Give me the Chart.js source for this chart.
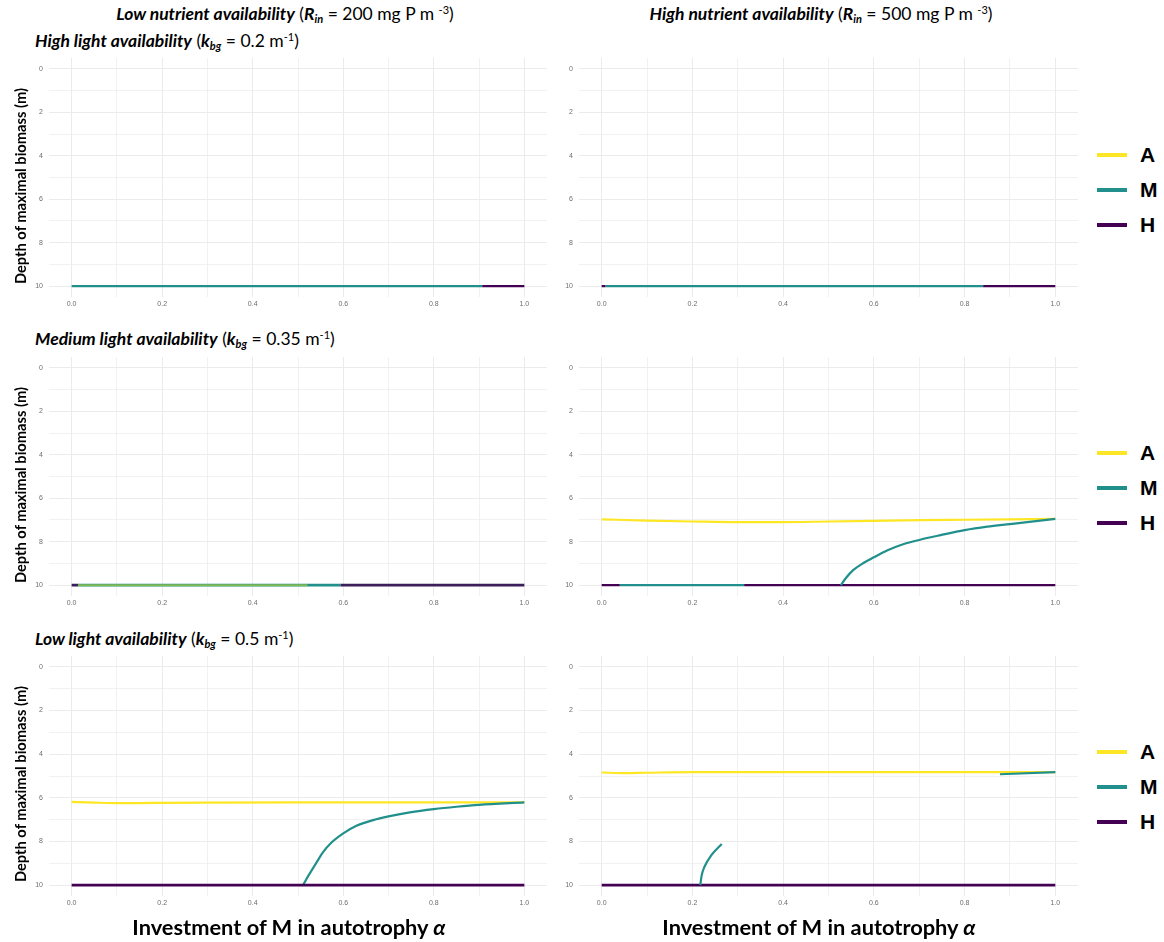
<!DOCTYPE html>
<html>
<head>
<meta charset="utf-8">
<script src="https://cdn.jsdelivr.net/npm/chart.js@4"></script>
<style>
  body { margin: 0; background: #fff; }
  #wrap { position: relative; width: 1164px; height: 942px; overflow: hidden; }
  canvas { position: absolute; }
  .txt { position: absolute; white-space: nowrap; color: #000; }
  .head { font-family: Lato, "Open Sans", sans-serif; font-size: 17.5px; }
  .head sub { font-size: 11px; line-height: 1; vertical-align: -0.3em; }
  .head sup { font-size: 11px; line-height: 1; vertical-align: 0.55em; }
  .ytitle { font-family: Lato, sans-serif; font-weight: bold; font-size: 14.7px;
            transform: translate(-50%, -50%) rotate(-90deg); }
  .xtitle { font-family: Lato, sans-serif; font-weight: bold; font-size: 21.8px;
            transform: translateX(-50%); }
  .leg { position: absolute; font-family: "Liberation Sans", Arial, sans-serif;
         font-weight: bold; font-size: 21px; }
  .leg .sw { position: absolute; left: 0; width: 30px; height: 4px; }
  .leg .lab { position: absolute; left: 43px; transform: translateY(-50%); }
</style>
</head>
<body>
<div id="wrap"></div>
<script>
// series colours (viridis)
var colA = '#FDE725', colM = '#21908C', colH = '#440154';

// x ticks (alpha) and y ticks (depth)
var alphaTicks = [0, 0.1, 0.2, 0.3, 0.4, 0.5, 0.6, 0.7, 0.8, 0.9, 1];
var depthTicks = [0, 1, 2, 3, 4, 5, 6, 7, 8, 9, 10];

// high light, low nutrients
var p1_M_alpha = [0, 0.907];
var p1_M_depth = [10, 10];
var p1_H_alpha = [0.907, 1];
var p1_H_depth = [10, 10];

// high light, high nutrients
var p2_M_alpha = [0.008, 0.841];
var p2_M_depth = [10, 10];
var p2_H_alpha = [0, 0.008, 0.5, 0.841, 1];
var p2_H_depth = [10, 10, null, 10, 10];

// medium light, low nutrients
var p3_A_alpha = [0.014, 0.521];
var p3_A_depth = [10, 10];
var p3_M_alpha = [0.014, 0.594];
var p3_M_depth = [10, 10];
var p3_H_alpha = [0, 0.014, 0.3, 0.594, 1];
var p3_H_depth = [10, 10, null, 10, 10];

// medium light, high nutrients
var p4_A_alpha = [0, 0.1, 0.2, 0.3, 0.4, 0.5, 0.6, 0.7, 0.8, 0.9, 1];
var p4_A_depth = [6.97, 7.03, 7.07, 7.1, 7.1, 7.07, 7.04, 7.01, 6.99, 6.97, 6.95];
var p4_M_alpha = [0.04, 0.314, 0.42, 0.527, 0.538, 0.555, 0.577, 0.6, 0.629, 0.666, 0.7, 0.747, 0.8, 0.85, 0.9, 1];
var p4_M_depth = [10, 10, null, 10, 9.68, 9.3, 8.98, 8.72, 8.41, 8.11, 7.92, 7.7, 7.47, 7.31, 7.19, 6.95];
var p4_H_alpha = [0, 0.04, 0.2, 0.314, 1];
var p4_H_depth = [10, 10, null, 10, 10];

// low light, low nutrients
var p5_A_alpha = [0, 0.05, 0.1, 0.15, 0.2, 0.3, 0.5, 0.7, 0.9, 1];
var p5_A_depth = [6.19, 6.22, 6.24, 6.24, 6.23, 6.22, 6.21, 6.21, 6.21, 6.21];
var p5_M_alpha = [0.511, 0.525, 0.541, 0.555, 0.574, 0.6, 0.629, 0.666, 0.7, 0.747, 0.8, 0.85, 0.9, 1];
var p5_M_depth = [10, 9.5, 8.96, 8.5, 8.05, 7.63, 7.28, 7.02, 6.85, 6.67, 6.52, 6.41, 6.32, 6.21];
var p5_H_alpha = [0, 1];
var p5_H_depth = [10, 10];

// low light, high nutrients
var p6_A_alpha = [0, 0.05, 0.1, 0.2, 0.5, 0.8, 1];
var p6_A_depth = [4.84, 4.87, 4.85, 4.82, 4.82, 4.82, 4.82];
var p6_M_alpha = [0.2175, 0.22, 0.2266, 0.2418, 0.2646, 0.5, 0.878, 1];
var p6_M_depth = [10, 9.6, 9.16, 8.63, 8.12, null, 4.92, 4.82];
var p6_H_alpha = [0, 1];
var p6_H_depth = [10, 10];

var wrap = document.getElementById('wrap');

function pts(xs, ys) {
  return xs.map(function (x, i) { return { x: x, y: ys[i] }; });
}

function line(xs, ys, color, order, width) {
  return {
    data: pts(xs, ys),
    borderColor: color,
    borderWidth: width || 2.2,
    pointRadius: 0,
    fill: false,
    spanGaps: false,
    cubicInterpolationMode: 'monotone',
    order: order
  };
}

function noPad(s) {
  s.paddingTop = 0; s.paddingBottom = 0; s.paddingLeft = 0; s.paddingRight = 0;
}

function panel(left, top, w, h, datasets) {
  var cv = document.createElement('canvas');
  cv.width = w; cv.height = h;
  cv.style.left = left + 'px';
  cv.style.top = top + 'px';
  wrap.appendChild(cv);
  var tickFont = { family: '"Liberation Sans", Arial, sans-serif', size: 7 };
  new Chart(cv, {
    type: 'line',
    data: { datasets: datasets },
    options: {
      responsive: false,
      animation: false,
      layout: { padding: 0 },
      plugins: { legend: { display: false }, tooltip: { enabled: false } },
      scales: {
        x: {
          type: 'linear', min: -0.05, max: 1.05,
          afterBuildTicks: function (s) { s.ticks = alphaTicks.map(function (v) { return { value: v }; }); },
          afterFit: function (s) { s.height = 18; noPad(s); },
          ticks: {
            autoSkip: false, maxRotation: 0, padding: 3, color: '#6e6e6e', font: tickFont,
            callback: function (v, i) { return i % 2 === 0 ? v.toFixed(1) : ''; }
          },
          grid: {
            color: '#ebebeb', drawTicks: false,
            lineWidth: function (c) { return c.index % 2 === 0 ? 1 : 0.7; }
          },
          border: { display: false }
        },
        y: {
          type: 'linear', min: -0.5, max: 10.5, reverse: true,
          afterBuildTicks: function (s) { s.ticks = depthTicks.map(function (v) { return { value: v }; }); },
          afterFit: function (s) { s.width = 22; noPad(s); },
          ticks: {
            autoSkip: false, padding: 6, color: '#6e6e6e', font: tickFont,
            callback: function (v, i) { return i % 2 === 0 ? String(v) : ''; }
          },
          grid: {
            color: '#ebebeb', drawTicks: false,
            lineWidth: function (c) { return c.index % 2 === 0 ? 1 : 0.7; }
          },
          border: { display: false }
        }
      }
    }
  });
}

var colL = 27, colR = 557, wL = 520, wR = 521;

panel(colL, 58, wL, 257, [
  line(p1_M_alpha, p1_M_depth, colM, 2),
  line(p1_H_alpha, p1_H_depth, colH, 1)
]);
panel(colR, 58, wR, 257, [
  line(p2_M_alpha, p2_M_depth, colM, 2),
  line(p2_H_alpha, p2_H_depth, colH, 1)
]);
panel(colL, 357, wL, 257, [
  line(p3_M_alpha, p3_M_depth, colM, 3, 2.6),
  line(p3_A_alpha, p3_A_depth, 'rgba(160,200,70,0.75)', 1, 2),
  line(p3_H_alpha, p3_H_depth, '#3a1f5a', 2, 2.6)
]);
panel(colR, 357, wR, 257, [
  line(p4_A_alpha, p4_A_depth, colA, 3),
  line(p4_H_alpha, p4_H_depth, colH, 2),
  line(p4_M_alpha, p4_M_depth, colM, 1)
]);
panel(colL, 656, wL, 258, [
  line(p5_A_alpha, p5_A_depth, colA, 3),
  line(p5_M_alpha, p5_M_depth, colM, 2),
  line(p5_H_alpha, p5_H_depth, colH, 1, 2.6)
]);
panel(colR, 656, wR, 258, [
  line(p6_A_alpha, p6_A_depth, colA, 3),
  line(p6_M_alpha, p6_M_depth, colM, 1),
  line(p6_H_alpha, p6_H_depth, colH, 2, 2.6)
]);

function txt(cls, html, x, y, extra) {
  var d = document.createElement('div');
  d.className = 'txt ' + cls;
  d.innerHTML = html;
  d.style.left = x + 'px';
  d.style.top = y + 'px';
  if (extra) d.style.cssText += extra;
  wrap.appendChild(d);
  return d;
}

// column headers
txt('head', '<b><i>Low nutrient availability</i></b> (<b><i>R<sub>in</sub></i></b> = 200 mg P m <sup>-3</sup>)', 285, 3, 'transform:translateX(-50%)');
txt('head', '<b><i>High nutrient availability</i></b> (<b><i>R<sub>in</sub></i></b> = 500 mg P m <sup>-3</sup>)', 821, 3, 'transform:translateX(-50%)');

// row headers
txt('head', '<b><i>High light availability</i></b> (<b><i>k<sub>bg</sub></i></b> = 0.2 m<sup>-1</sup>)', 35, 30);
txt('head', '<b><i>Medium light availability</i></b> (<b><i>k<sub>bg</sub></i></b> = 0.35 m<sup>-1</sup>)', 35, 328);
txt('head', '<b><i>Low light availability</i></b> (<b><i>k<sub>bg</sub></i></b> = 0.5 m<sup>-1</sup>)', 35, 628);

// y axis titles
[186, 485, 784].forEach(function (cy) {
  txt('ytitle', 'Depth of maximal biomass (m)', 20, cy);
});

// x axis titles
txt('xtitle', 'Investment of M in autotrophy <i>\u03b1</i>', 289, 913);
txt('xtitle', 'Investment of M in autotrophy <i>\u03b1</i>', 819, 913);

// legends
[155, 453, 752].forEach(function (y0) {
  var g = document.createElement('div');
  g.className = 'leg';
  g.style.left = '1097px';
  g.style.top = '0px';
  [['A', colA, 0], ['M', colM, 35], ['H', colH, 70]].forEach(function (it) {
    var sw = document.createElement('div');
    sw.className = 'sw';
    sw.style.background = it[1];
    sw.style.top = (y0 + it[2] - 2) + 'px';
    g.appendChild(sw);
    var lb = document.createElement('div');
    lb.className = 'lab';
    lb.textContent = it[0];
    lb.style.top = (y0 + it[2]) + 'px';
    g.appendChild(lb);
  });
  wrap.appendChild(g);
});
</script>
</body>
</html>
